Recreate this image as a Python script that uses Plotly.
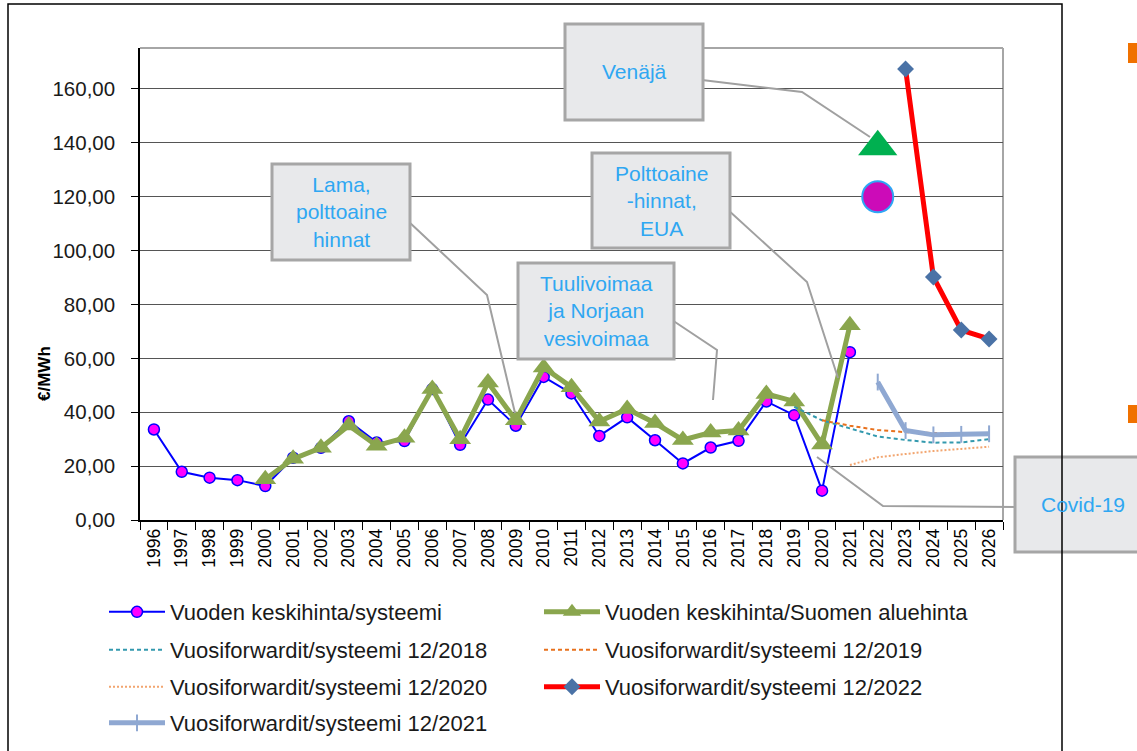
import plotly.graph_objects as go

# ---------------- data ----------------
years = [str(y) for y in range(1996, 2027)]

sys_years = [str(y) for y in range(1996, 2022)]
sys_vals = [33.6, 17.9, 15.7, 14.8, 12.6, 23.1, 26.8, 36.7, 28.8, 29.3, 48.6, 27.9, 44.7,
            35.0, 53.1, 47.0, 31.2, 38.1, 29.6, 21.0, 26.9, 29.4, 44.0, 38.9, 10.9, 62.3]

fi_years = [str(y) for y in range(2000, 2022)]
fi_vals = [15.1, 22.7, 26.8, 35.1, 27.6, 30.5, 48.6, 30.0, 51.0, 37.0, 56.6, 49.3, 36.6,
           41.2, 36.0, 29.7, 32.5, 33.2, 46.8, 44.0, 28.0, 72.3]

f2018_years = [str(y) for y in range(2019, 2027)]
f2018_vals = [42.0, 37.0, 34.0, 31.0, 29.7, 28.7, 28.8, 30.0]

f2019_years = [str(y) for y in range(2020, 2027)]
f2019_vals = [37.0, 35.0, 33.4, 32.6, 32.3, 32.0, 32.0]

f2020_years = [str(y) for y in range(2021, 2027)]
f2020_vals = [20.4, 23.3, 24.5, 25.6, 26.4, 27.2]

f2021_years = [str(y) for y in range(2022, 2027)]
f2021_vals = [51.2, 33.2, 31.6, 31.8, 32.0]

f2022_years = [str(y) for y in range(2023, 2027)]
f2022_vals = [167.4, 90.2, 70.5, 67.2]

russia_year = ["2022"]
russia_tri = [138.5]
russia_circ = [120.0]

y_ticks = [0, 20, 40, 60, 80, 100, 120, 140, 160]

# ---------------- layout helpers ----------------
W, H = 1137, 751
L, R, T, B = 140, 1003, 48, 520
PW, PH = R - L, B - T


def px(x):
    return (x - L) / PW


def py(y):
    return (B - y) / PH


FONT = "Liberation Sans, Arial, sans-serif"

fig = go.Figure()

fig.add_trace(go.Scatter(
    x=sys_years, y=sys_vals, mode="lines+markers", name="Vuoden keskihinta/systeemi",
    line=dict(color="#0000FF", width=2),
    marker=dict(symbol="circle", size=11, color="#FF00FF", line=dict(color="#0000FF", width=1.5)),
    legend="legend"))

fig.add_trace(go.Scatter(
    x=fi_years, y=fi_vals, mode="lines+markers", name="Vuoden keskihinta/Suomen aluehinta",
    line=dict(color="#8AA64E", width=5),
    marker=dict(symbol="triangle-up", size=19, color="#8AA64E"),
    legend="legend"))

fig.add_trace(go.Scatter(
    x=f2018_years, y=f2018_vals, mode="lines", name="Vuosiforwardit/systeemi 12/2018",
    line=dict(color="#3399AE", width=2, dash="4px,3px"),
    legend="legend2"))

fig.add_trace(go.Scatter(
    x=f2019_years, y=f2019_vals, mode="lines", name="Vuosiforwardit/systeemi 12/2019",
    line=dict(color="#E8711D", width=2, dash="4px,3px"),
    legend="legend2"))

fig.add_trace(go.Scatter(
    x=f2020_years, y=f2020_vals, mode="lines", name="Vuosiforwardit/systeemi 12/2020",
    line=dict(color="#F2A56F", width=2, dash="2px,2px"),
    legend="legend3"))

fig.add_trace(go.Scatter(
    x=f2022_years, y=f2022_vals, mode="lines+markers", name="Vuosiforwardit/systeemi 12/2022",
    line=dict(color="#FF0000", width=5),
    marker=dict(symbol="diamond", size=13, color="#4A72A6"),
    legend="legend3"))

fig.add_trace(go.Scatter(
    x=f2021_years, y=f2021_vals, mode="lines+markers", name="Vuosiforwardit/systeemi 12/2021",
    line=dict(color="#8FA8D2", width=5),
    marker=dict(symbol="line-ns-open", size=12, color="#8FA8D2", line=dict(color="#8FA8D2", width=2)),
    legend="legend4"))

fig.add_trace(go.Scatter(
    x=russia_year, y=russia_tri, mode="markers", showlegend=False,
    marker=dict(symbol="triangle-up", size=34, color="#00B050")))

fig.add_trace(go.Scatter(
    x=russia_year, y=russia_circ, mode="markers", showlegend=False,
    marker=dict(symbol="circle", size=31, color="#CC0BB8", line=dict(color="#2EA6F5", width=2))))

# ---------------- shapes ----------------
shapes = []
# plot area top/right border
shapes.append(dict(type="line", xref="paper", yref="paper", x0=0, x1=1, y0=1, y1=1,
                   line=dict(color="#A6A6A6", width=2), layer="below"))
shapes.append(dict(type="line", xref="paper", yref="paper", x0=1, x1=1, y0=0, y1=1,
                   line=dict(color="#A6A6A6", width=2), layer="below"))

boxes = [
    # (x0, y0, x1, y1) in pixels, text, callout path points
    ((565, 24, 703, 120), "Venäjä", [(702, 80), (802, 92), (870, 137)]),
    ((272, 164, 410, 260), "Lama,<br>polttoaine<br>hinnat", [(408, 221), (487, 295), (515, 413)]),
    ((592, 153, 730, 248), "Polttoaine<br>-hinnat,<br>EUA", [(727, 209), (807, 282), (838, 378)]),
    ((518, 263, 674, 359), "Tuulivoimaa<br>ja Norjaan<br>vesivoimaa", [(672, 320), (717, 350), (713, 400)]),
    ((1015, 457, 1160, 552), "Covid-19", [(1017, 507), (883, 506), (817, 457)]),
]
annotations = []
for (x0, y0, x1, y1), txt, pts in boxes:
    path = "M" + " L".join(f"{px(a):.5f},{py(b):.5f}" for a, b in pts)
    shapes.append(dict(type="path", xref="paper", yref="paper", path=path,
                       line=dict(color="#A0A0A0", width=2)))
    shapes.append(dict(type="rect", xref="paper", yref="paper",
                       x0=px(x0), x1=px(x1), y0=py(y1), y1=py(y0),
                       fillcolor="#E8E9EB", line=dict(color="#A6A6A6", width=3)))
    cx = (x0 + x1) / 2 if txt != "Covid-19" else 1083
    annotations.append(dict(xref="paper", yref="paper", x=px(cx), y=py((y0 + y1) / 2),
                            text=txt, showarrow=False, xanchor="center", yanchor="middle",
                            font=dict(family=FONT, size=21, color="#2FA7F2")))

# outer frame of the slide picture
shapes.append(dict(type="rect", xref="paper", yref="paper",
                   x0=px(8), x1=px(1062), y0=py(800), y1=py(4),
                   line=dict(color="#000000", width=1.5)))
# orange bullet fragments at right edge
for yy0, yy1 in [(43, 63), (405, 423)]:
    shapes.append(dict(type="rect", xref="paper", yref="paper",
                       x0=px(1128), x1=px(1140), y0=py(yy1), y1=py(yy0),
                       fillcolor="#F07100", line=dict(width=0)))

# y-axis title
annotations.append(dict(xref="paper", yref="paper", x=px(45), y=py(374), text="<b>€/MWh</b>",
                        showarrow=False, textangle=-90, xanchor="center", yanchor="middle",
                        font=dict(family=FONT, size=17, color="#000000")))

leg_common = dict(orientation="h", xanchor="left", yanchor="middle", entrywidth=364,
                  entrywidthmode="pixels", itemwidth=56, bgcolor="rgba(0,0,0,0)",
                  font=dict(family=FONT, size=22, color="#1A1A1A"), x=px(104))

fig.update_layout(
    width=W, height=H,
    margin=dict(l=L, r=W - R, t=T, b=H - B, autoexpand=False),
    paper_bgcolor="white", plot_bgcolor="white",
    separators=", ",
    showlegend=True,
    legend=dict(leg_common, y=py(612)),
    legend2=dict(leg_common, y=py(650)),
    legend3=dict(leg_common, y=py(687)),
    legend4=dict(leg_common, y=py(723)),
    shapes=shapes,
    annotations=annotations,
    xaxis=dict(type="category", categoryorder="array", categoryarray=years,
               range=[-0.5, len(years) - 0.5], tickangle=-90, tickson="boundaries",
               ticks="outside", ticklen=8, tickcolor="#000", tickwidth=1,
               showline=True, linecolor="#000", linewidth=1.5, showgrid=False,
               tickfont=dict(family=FONT, size=17.5, color="#000"), automargin=False),
    yaxis=dict(range=[0, 175.2], tickvals=y_ticks, tickformat=".2f",
               ticks="outside", ticklen=7, tickcolor="#000", tickwidth=1,
               showline=True, linecolor="#000", linewidth=1.5,
               showgrid=True, gridcolor="#555555", gridwidth=1.2, zeroline=False,
               ticklabelstandoff=12,
               tickfont=dict(family=FONT, size=20.5, color="#1A1A1A"), automargin=False),
)

fig.write_html("out.html", config={"displayModeBar": False},
               post_script="document.body.style.margin='0px';document.body.style.overflow='hidden';")
